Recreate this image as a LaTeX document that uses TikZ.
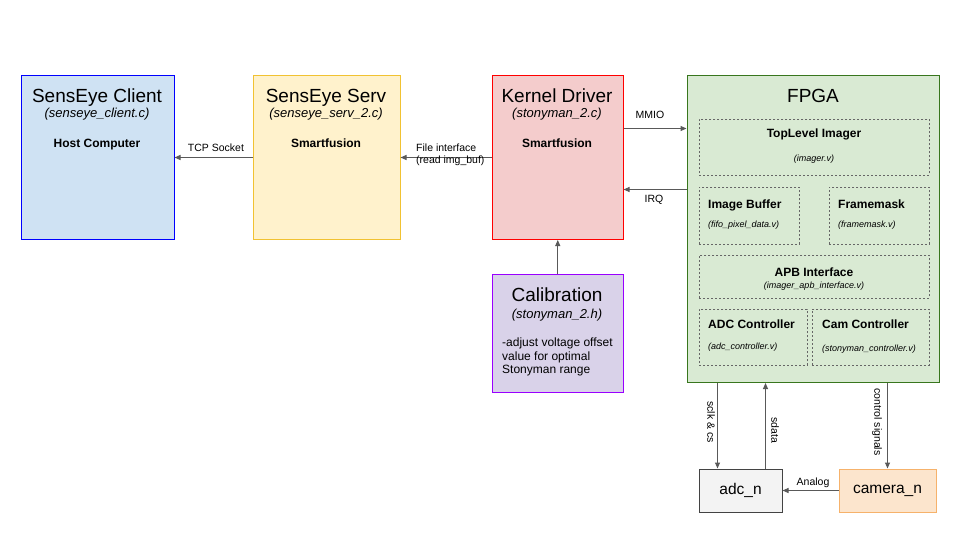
\documentclass[tikz,border=0pt]{standalone}
\usepackage{fontspec}
\setmainfont{Liberation Sans}
\usetikzlibrary{arrows.meta}
\definecolor{cblue}{HTML}{CFE2F3}\definecolor{cblueb}{HTML}{0000FF}
\definecolor{cyel}{HTML}{FFF2CC}\definecolor{cyelb}{HTML}{F1C232}
\definecolor{cred}{HTML}{F4CCCC}\definecolor{credb}{HTML}{FF0000}
\definecolor{cgrn}{HTML}{D9EAD3}\definecolor{cgrnb}{HTML}{38761D}
\definecolor{cpur}{HTML}{D9D2E9}\definecolor{cpurb}{HTML}{9900FF}
\definecolor{cgry}{HTML}{F3F3F3}\definecolor{cgryb}{HTML}{434343}
\definecolor{corg}{HTML}{FCE5CD}\definecolor{corgb}{HTML}{F6B26B}
\definecolor{agrey}{HTML}{595959}
\definecolor{dgrey}{HTML}{666666}
\begin{document}
\begin{tikzpicture}[x=1pt,y=-1pt,
 box/.style={draw, line width=1pt, anchor=north west, inner sep=0pt},
 subbox/.style={draw=dgrey, dash pattern=on 2pt off 2pt, line width=0.8pt, anchor=north west, inner sep=0pt},
 arr/.style={draw=agrey, line width=1pt, -{Triangle[length=6pt,width=5pt]}},
 ttl/.style={anchor=base, inner sep=0pt, font=\fontsize{19}{22}\selectfont},
 sttl/.style={anchor=base, inner sep=0pt, font=\fontsize{13}{15}\selectfont\itshape},
 bld/.style={anchor=base, inner sep=0pt, font=\fontsize{12}{14}\selectfont\bfseries},
 bldw/.style={bld, anchor=base west},
 smi/.style={anchor=base, inner sep=0pt, font=\fontsize{9}{11}\selectfont\itshape},
 smiw/.style={smi, anchor=base west},
 lbl/.style={inner sep=0pt, font=\fontsize{10.5}{12}\selectfont},
 body/.style={anchor=base west, inner sep=0pt, font=\fontsize{12}{14}\selectfont},
 endbox/.style={draw, line width=1pt, inner sep=0pt, font=\fontsize{15.5}{18}\selectfont},
]
\useasboundingbox[fill=white] (0,0) rectangle (960,540);

% main boxes
\node[box, draw=cblueb, fill=cblue, minimum width=153pt, minimum height=164pt] (client) at (20.5,75) {};
\node[box, draw=cyelb, fill=cyel, minimum width=146.5pt, minimum height=164pt] (serv) at (253,75) {};
\node[box, draw=credb, fill=cred, minimum width=130.5pt, minimum height=164pt] (kernel) at (492,75) {};
\node[box, draw=cgrnb, fill=cgrn, minimum width=252.5pt, minimum height=307pt] (fpga) at (686.5,75) {};
\node[box, draw=cpurb, fill=cpur, minimum width=130.5pt, minimum height=118pt] (calib) at (492,274) {};
\node[endbox, draw=cgryb, fill=cgry, minimum width=83pt, minimum height=43pt] (adc) at (740.5,490.5) {adc\_n};
\node[endbox, draw=corgb, fill=corg, minimum width=97pt, minimum height=43pt] (cam) at (887.5,490.5) {camera\_n};

% sub boxes
\node[subbox, minimum width=230pt, minimum height=56pt] (top) at (699,119) {};
\node[subbox, minimum width=100pt, minimum height=57pt] (imgbuf) at (699,187) {};
\node[subbox, minimum width=100pt, minimum height=57pt] (fmask) at (829,187) {};
\node[subbox, minimum width=230pt, minimum height=43pt] (apb) at (699,255) {};
\node[subbox, minimum width=108pt, minimum height=56pt] (adcc) at (699,309) {};
\node[subbox, minimum width=117pt, minimum height=56pt] (camc) at (812,309) {};

% texts
\node[ttl] (clientT) at (97,102.5) {SensEye Client};
\node[sttl] (clientS) at (97,118) {(senseye\_client.c)};
\node[bld] (clientB) at (97,148) {Host Computer};
\node[ttl] (servT) at (326,102.5) {SensEye Serv};
\node[sttl] (servS) at (326,118) {(senseye\_serv\_2.c)};
\node[bld] (servB) at (326,148) {Smartfusion};
\node[ttl] (kernT) at (557,102.5) {Kernel Driver};
\node[sttl] (kernS) at (557,118) {(stonyman\_2.c)};
\node[bld] (kernB) at (557,148) {Smartfusion};
\node[ttl] (fpgaT) at (813,103) {FPGA};
\node[ttl] (calT) at (557,301) {Calibration};
\node[sttl] (calS) at (557,318) {(stonyman\_2.h)};
\node[body] (cal1) at (502,346) {-adjust voltage offset};
\node[body] (cal2) at (502,360) {value for optimal};
\node[body] (cal3) at (502,373) {Stonyman range};

\node[bld] (topB) at (814,138) {TopLevel Imager};
\node[smi] (topI) at (814,161) {(imager.v)};
\node[bldw] (ibB) at (708,208) {Image Buffer};
\node[smiw] (ibI) at (708,227) {(fifo\_pixel\_data.v)};
\node[bldw] (fmB) at (838,208) {Framemask};
\node[smiw] (fmI) at (838,227) {(framemask.v)};
\node[bld] (apbB) at (814,276) {APB Interface};
\node[smi] (apbI) at (814,288) {(imager\_apb\_interface.v)};
\node[bldw] (adccB) at (708,328) {ADC Controller};
\node[smiw] (adccI) at (708,349) {(adc\_controller.v)};
\node[bldw] (camcB) at (822,328) {Cam Controller};
\node[smiw] (camcI) at (822,351) {(stonyman\_controller.v)};

% connectors
\draw[arr] (serv.west) -- (client.east);
\draw[arr] (kernel.west) -- (serv.east);
\coordinate (mm) at ([yshift=29pt]kernel.east);
\draw[arr] (mm) -- (mm -| fpga.west);
\coordinate (iq) at ([yshift=-32pt]kernel.east);
\draw[arr] (iq -| fpga.west) -- (iq);
\draw[arr] (calib.north) -- (kernel.south);
\coordinate (sc) at ([xshift=-23pt]adc.north);
\draw[arr] (sc |- fpga.south) -- (sc);
\coordinate (sd) at ([xshift=25pt]adc.north);
\draw[arr] (sd) -- (sd |- fpga.south);
\draw[arr] (cam.north |- fpga.south) -- (cam.north);
\draw[arr] (cam.west) -- (adc.east);

% connector labels
\node[lbl, anchor=base] (tcpL) at (216,152) {TCP Socket};
\node[lbl, anchor=base west] (fiL1) at (416,152) {File interface};
\node[lbl, anchor=base west] (fiL2) at (416,164) {(read img\_buf)};
\node[lbl, anchor=base] (mmioL) at (650,119) {MMIO};
\node[lbl, anchor=base] (irqL) at (654,202) {IRQ};
\node[lbl, anchor=base] (anL) at (813,485) {Analog};
\node[lbl, rotate=-90] (sclkL) at (711,422) {sclk \& cs};
\node[lbl, rotate=-90] (sdL) at (775,430) {sdata};
\node[lbl, rotate=-90] (ctlL) at (877,422) {control signals};
\end{tikzpicture}
\end{document}
